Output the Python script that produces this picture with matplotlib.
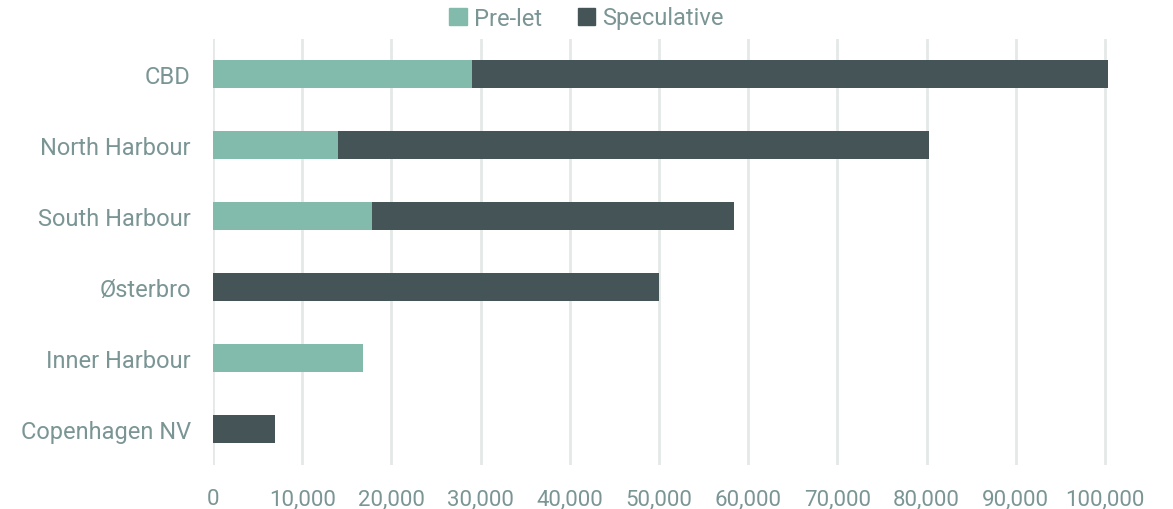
import matplotlib
matplotlib.use("Agg")
import matplotlib.pyplot as plt
from matplotlib.ticker import FuncFormatter
from matplotlib.patches import Patch

categories = ["CBD", "North Harbour", "South Harbour", "Østerbro", "Inner Harbour", "Copenhagen NV"]
pre_let = [29000, 14000, 17800, 0, 16800, 0]
speculative = [71300, 66300, 40600, 50000, 0, 6950]
x_ticks = [0, 10000, 20000, 30000, 40000, 50000, 60000, 70000, 80000, 90000, 100000]

c_pre = "#82bbab"
c_spec = "#445457"
c_text = "#7b9595"
c_grid = "#e4e8e7"

plt.rcParams['font.family'] = ['Roboto', 'DejaVu Sans']

fig = plt.figure(figsize=(11.73, 5.10), dpi=100)
ax = fig.add_axes([213/1173, 44.5/510, (1109.5-213)/1173, (470.5-44.5)/510])

y = list(range(len(categories)))
ax.barh(y, pre_let, height=0.4, color=c_pre, zorder=3)
ax.barh(y, speculative, left=pre_let, height=0.4, color=c_spec, zorder=3)

ax.set_ylim(len(categories) - 0.5, -0.5)
ax.set_xlim(0, 100500)
ax.set_xticks(x_ticks)
ax.xaxis.set_major_formatter(FuncFormatter(lambda v, p: f"{int(v):,}"))
ax.set_yticks(y)
ax.set_yticklabels(categories)
ax.grid(axis="x", color=c_grid, linewidth=2, zorder=0)
for s in ax.spines.values():
    s.set_visible(False)
ax.tick_params(axis="x", length=0, pad=17, labelsize=16, labelcolor=c_text)
ax.tick_params(axis="y", length=0, pad=16, labelsize=17, labelcolor=c_text)

handles = [Patch(color=c_pre, label="Pre-let"), Patch(color=c_spec, label="Speculative")]
fig.legend(handles=handles, loc="center", bbox_to_anchor=(0.5, 1 - 19/510), ncol=2,
           frameon=False, fontsize=17, labelcolor=c_text, handlelength=0.75, handleheight=0.75,
           handletextpad=0.3, columnspacing=1.5)

fig.savefig("out.png", dpi=100)
